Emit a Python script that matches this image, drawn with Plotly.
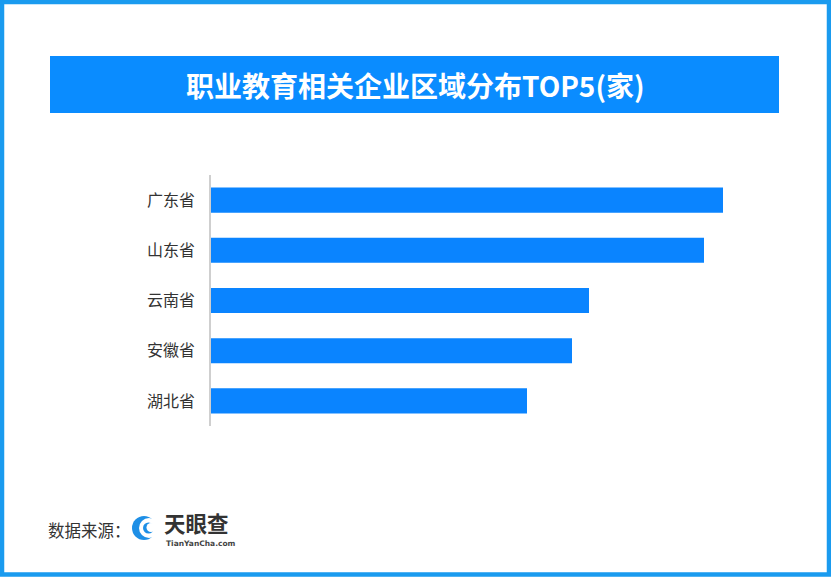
import plotly.graph_objects as go

W, H = 831, 577

# Data
provinces = ["广东省", "山东省", "云南省", "安徽省", "湖北省"]
counts = [512, 493, 378, 361, 316]

title_text = "职业教育相关企业区域分布TOP5(家)"
source_label = "数据来源："

BAR = "#0A84FF"
TITLE_BG = "#0A8CFF"
BORDER = "#1A9BEF"
FONT = "Noto Sans CJK SC"


def px(x):
    return x / W


def py(y):
    return 1 - y / H


fig = go.Figure(
    go.Bar(
        x=counts,
        y=provinces,
        orientation="h",
        marker=dict(color=BAR, line=dict(width=0)),
        hoverinfo="x+y",
    )
)

fig.update_layout(
    width=W,
    height=H,
    margin=dict(l=0, r=0, t=0, b=0),
    paper_bgcolor="white",
    plot_bgcolor="white",
    bargap=0.5,
    showlegend=False,
    font=dict(family=FONT, color="#333333"),
    xaxis=dict(
        domain=[px(211), px(780)],
        range=[0, 569],
        visible=False,
        showgrid=False,
        zeroline=False,
        fixedrange=True,
    ),
    yaxis=dict(
        domain=[py(426), py(175)],
        categoryorder="array",
        categoryarray=provinces,
        autorange="reversed",
        showline=True,
        linecolor="#CFCFCF",
        linewidth=1.5,
        showgrid=False,
        zeroline=False,
        ticks="outside",
        ticklen=11,
        tickcolor="rgba(0,0,0,0)",
        tickfont=dict(size=16, color="#333333", family=FONT),
        fixedrange=True,
    ),
)

shapes = [
    # outer border
    dict(type="rect", xref="paper", yref="paper",
         x0=px(2), x1=px(W - 2), y0=py(H - 2.5), y1=py(2),
         line=dict(color=BORDER, width=4.5), fillcolor="rgba(0,0,0,0)", layer="above"),
    # title bar
    dict(type="rect", xref="paper", yref="paper",
         x0=px(50), x1=px(779), y0=py(113), y1=py(56),
         line=dict(width=0), fillcolor=TITLE_BG, layer="below"),
    # logo icon
    dict(type="circle", xref="paper", yref="paper",
         x0=px(132), x1=px(156), y0=py(540), y1=py(516),
         line=dict(width=0), fillcolor="#1E8FE6", layer="above"),
    dict(type="circle", xref="paper", yref="paper",
         x0=px(139), x1=px(159), y0=py(538), y1=py(518),
         line=dict(width=0), fillcolor="white", layer="above"),
    dict(type="circle", xref="paper", yref="paper",
         x0=px(143), x1=px(154), y0=py(533.5), y1=py(522.5),
         line=dict(width=0), fillcolor="#1E8FE6", layer="above"),
    dict(type="circle", xref="paper", yref="paper",
         x0=px(146.5), x1=px(155.5), y0=py(532), y1=py(523),
         line=dict(width=0), fillcolor="white", layer="above"),
]

annotations = [
    dict(text=f"<b>{title_text}</b>", xref="paper", yref="paper",
         x=px(415), y=py(85), xanchor="center", yanchor="middle",
         showarrow=False, font=dict(size=28, color="white", family=FONT)),
    dict(text=source_label, xref="paper", yref="paper",
         x=px(46), y=py(530), xanchor="left", yanchor="middle",
         showarrow=False, font=dict(size=16.5, color="#333333", family=FONT)),
    dict(text="<b>天眼查</b>", xref="paper", yref="paper",
         x=px(163), y=py(522), xanchor="left", yanchor="middle", borderpad=0,
         showarrow=False, font=dict(size=21.5, color="#333333", family=FONT)),
    dict(text="<b>TianYanCha.com</b>", xref="paper", yref="paper",
         x=px(165), y=py(543.5), xanchor="left", yanchor="middle", borderpad=0,
         showarrow=False, font=dict(size=7.5, color="#444444", family="DejaVu Sans")),
]

fig.update_layout(shapes=shapes, annotations=annotations)

fig.write_html(
    "out.html",
    config={"displayModeBar": False},
    post_script="document.body.style.margin='0';document.body.style.overflow='hidden';",
)
